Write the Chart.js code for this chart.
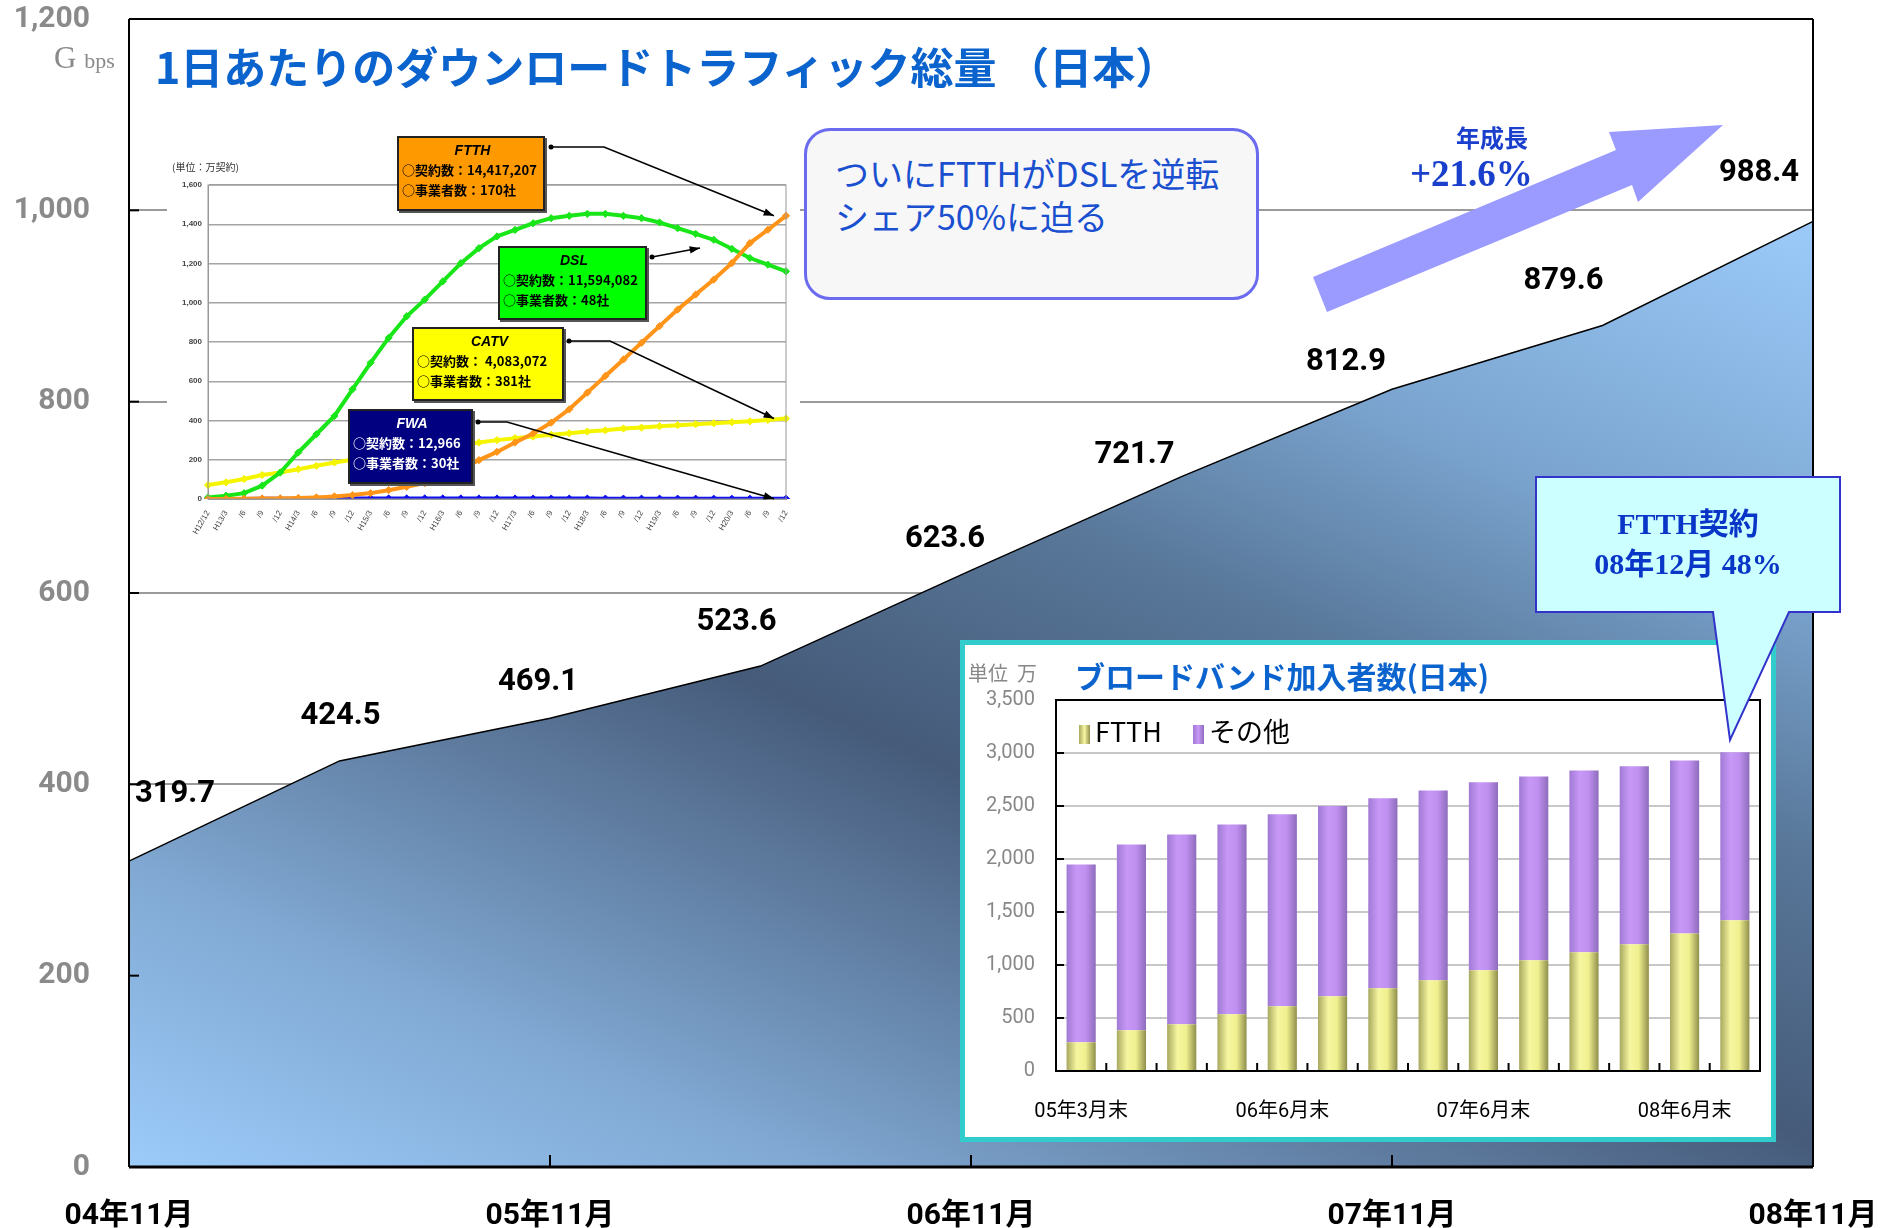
<!DOCTYPE html>
<html lang="ja">
<head>
<meta charset="utf-8">
<script src="https://cdn.jsdelivr.net/npm/chart.js@4.4.1/dist/chart.umd.min.js"></script>
<style>
  html, body { margin: 0; padding: 0; background: #fff; }
  body { width: 1894px; height: 1228px; position: relative; overflow: hidden;
         font-family: "Noto Sans CJK JP", "Noto Sans", sans-serif; }
  .abs { position: absolute; white-space: nowrap; }
  #main { position: absolute; left: 0; top: 0; z-index: 1; }
  #inset { position: absolute; left: 167px; top: 128px; z-index: 2; background: #fff; }
  #bbBox { position: absolute; left: 960px; top: 640px; width: 816px; height: 502px; box-sizing: border-box;
           border: 5px solid #33cccc; background: #fff; z-index: 2; }
  #bbBox canvas { position: absolute; left: 0; top: 0; }
  #overlay { position: absolute; left: 0; top: 0; z-index: 3; pointer-events: none; }
  .txt { z-index: 4; }
  .title { left: 155px; top: 37px; font-size: 43px; font-weight: bold; color: #0b63ce; line-height: 56px; }
  .gbps { left: 54px; top: 38px; color: #8a8a8a; font-family: "Liberation Serif", serif; font-size: 31px; line-height: 40px; }
  .gbps small { font-size: 22px; }
  .bubble { left: 804px; top: 128px; width: 455px; height: 172px; box-sizing: border-box; border: 3px solid #6b6bf0;
            border-radius: 26px; background: #f7f7f7; padding: 20px 0 0 28px; color: #1a4fd0; font-size: 34px; line-height: 43px; }
  .growth1 { left: 1456px; top: 122px; color: #1a3fcc; font-size: 24px; font-weight: bold; line-height: 30px; }
  .growth2 { left: 1410px; top: 152px; color: #1a3fcc; font-size: 37px; font-weight: bold; line-height: 44px;
             font-family: "Liberation Serif", "Noto Sans CJK JP", serif; }
  .ftthNote { left: 1536px; top: 504px; width: 304px; text-align: center; color: #0a36c8; font-weight: bold;
              font-size: 30px; line-height: 40px; font-family: "Liberation Serif", "Noto Sans CJK JP", serif; }
  .box { z-index: 4; box-sizing: border-box; border: 2px solid #222; box-shadow: 2px 2px 0 #555;
         font-size: 13px; font-weight: bold; line-height: 20px; padding: 2px 0 0 3px; color: #000; }
  .box .h { text-align: center; font-style: italic; font-size: 14px; font-family: "Liberation Sans", sans-serif; }
  .unit { left: 172px; top: 159px; font-size: 10px; color: #333; }
  .bbTitle { left: 1075px; top: 656px; font-size: 30px; font-weight: bold; color: #0b63ce; line-height: 38px; }
  .bbUnit { left: 968px; top: 660px; font-size: 20px; color: #888; line-height: 26px; }
  .legend { top: 714px; font-size: 27px; line-height: 34px; color: #000; }
  .sw { display: inline-block; width: 11px; height: 19px; vertical-align: -2px; margin-right: 5px; }
</style>
</head>
<body>
<canvas id="main" width="1894" height="1228"></canvas>
<canvas id="inset" width="633" height="424"></canvas>
<div id="bbBox"><canvas id="bb" width="806" height="492"></canvas></div>

<svg id="overlay" width="1894" height="1228">
  <polygon points="1313,277 1616,150 1609,132 1723,125 1638,202 1632,185 1327,312" fill="#9a9aff"/>
  <path d="M1536,477 H1840 V612 H1789 L1730,740 L1713,612 H1536 Z" fill="#ccffff" stroke="#3333cc" stroke-width="2"/>
</svg>

<div class="abs txt gbps">G <small>bps</small></div>
<div class="abs txt title">1日あたりのダウンロードトラフィック総量 （日本）</div>
<div class="abs txt bubble">ついにFTTHがDSLを逆転<br>シェア50%に迫る</div>
<div class="abs txt growth1">年成長</div>
<div class="abs txt growth2">+21.6%</div>
<div class="abs txt ftthNote">FTTH契約<br>08年12月 48%</div>

<div class="abs txt unit">(単位：万契約)</div>
<div class="abs box" style="left:397px;top:136px;width:148px;height:75px;background:#ff9900;">
  <div class="h">FTTH</div>○契約数：14,417,207<br>○事業者数：170社</div>
<div class="abs box" style="left:498px;top:246px;width:149px;height:74px;background:#00ff00;">
  <div class="h">DSL</div>○契約数：11,594,082<br>○事業者数：48社</div>
<div class="abs box" style="left:412px;top:327px;width:152px;height:74px;background:#ffff00;">
  <div class="h">CATV</div>○契約数： 4,083,072<br>○事業者数：381社</div>
<div class="abs box" style="left:348px;top:409px;width:125px;height:75px;background:#000080;color:#fff;">
  <div class="h">FWA</div>○契約数：12,966<br>○事業者数：30社</div>

<div class="abs txt bbUnit">単位&nbsp;&nbsp;万</div>
<div class="abs txt bbTitle">ブロードバンド加入者数(日本)</div>
<div class="abs txt legend" style="left:1079px;"><span class="sw" style="background:linear-gradient(90deg,#a8a860,#f6f6a0,#8f8f4c)"></span>FTTH</div>
<div class="abs txt legend" style="left:1193px;"><span class="sw" style="background:linear-gradient(90deg,#a07ad4,#c898f6,#8e6cbc)"></span>その他</div>

<script>
// main chart: daily download traffic, Gbps, half-yearly
const periods = ["04年11月", "05年5月", "05年11月", "06年5月", "06年11月", "07年5月", "07年11月", "08年5月", "08年11月"];
const trafficGbps = [319.7, 424.5, 469.1, 523.6, 623.6, 721.7, 812.9, 879.6, 988.4];
const labelNudge = [[46, -67], [1, -45], [-12, -36], [-24, -44], [-26, -31], [-47, -21], [-46, -27], [-39, -44], [-54, -48]];

// broadband subscribers inset (万)
const bbQuarters = ["05年3月末", "05年9月末", "05年12月末", "06年3月末", "06年6月末", "06年9月末", "06年12月末",
                    "07年3月末", "07年6月末", "07年9月末", "07年12月末", "08年3月末", "08年6月末", "08年9月末"];
const bbShown = [0, 4, 8, 12];
const bbFtth  = [271, 384, 441, 535, 611, 705, 781, 856, 951, 1045, 1121, 1196, 1297, 1423];
const bbOther = [1677, 1753, 1791, 1791, 1810, 1794, 1791, 1791, 1772, 1734, 1715, 1678, 1633, 1583];

// contracts by access type (万契約), quarterly H12/12 .. H20/12
const lineQuarters = ["H12/12", "H13/3", "/6", "/9", "/12", "H14/3", "/6", "/9", "/12", "H15/3", "/6", "/9", "/12",
                      "H16/3", "/6", "/9", "/12", "H17/3", "/6", "/9", "/12", "H18/3", "/6", "/9", "/12",
                      "H19/3", "/6", "/9", "/12", "H20/3", "/6", "/9", "/12"];
const ftthSubs = [0, 0, 1, 2, 3, 5, 8, 13, 20, 30, 45, 62, 81, 110, 152, 198, 240, 288, 334, 389, 457, 542, 627, 711,
                  796, 881, 965, 1042, 1118, 1202, 1304, 1372, 1443];
const dslSubs  = [8, 17, 30, 68, 135, 237, 330, 423, 559, 694, 821, 931, 1016, 1109, 1202, 1278, 1338, 1371, 1405, 1431,
                  1443, 1453, 1453, 1443, 1431, 1409, 1380, 1351, 1321, 1275, 1228, 1194, 1160];
const catvSubs = [71, 85, 102, 122, 135, 152, 169, 186, 200, 212, 225, 237, 249, 262, 274, 288, 300, 310, 318, 327,
                  335, 344, 350, 359, 364, 371, 376, 381, 386, 391, 396, 403, 410];
const fwaSubs  = [0.3, 0.5, 0.6, 0.9, 1.2, 1.5, 1.8, 2.3, 2.5, 2.6, 2.7, 2.8, 2.8, 2.8, 2.7, 2.6, 2.5, 2.4, 2.3, 2.2,
                  2.1, 2.0, 1.9, 1.8, 1.7, 1.6, 1.5, 1.5, 1.4, 1.4, 1.3, 1.3, 1.3];

const FONT = 'Roboto, "Noto Sans CJK JP", sans-serif';
const CLEAR = "rgba(0,0,0,0)";

function line(ctx, x1, y1, x2, y2) {
  ctx.beginPath(); ctx.moveTo(x1, y1); ctx.lineTo(x2, y2); ctx.stroke();
}

function areaFill(c) {
  const a = c.chart.chartArea;
  if (!a) return "#7fa6cf";
  const L = 1.345 * (a.bottom - a.top);
  const g = c.chart.ctx.createLinearGradient(a.left, a.bottom, a.left + 0.4 * L, a.bottom - 0.917 * L);
  g.addColorStop(0, "#9ccbfa");
  g.addColorStop(0.18, "#80a8d2");
  g.addColorStop(0.45, "#465b7a");
  g.addColorStop(0.62, "#587799");
  g.addColorStop(0.78, "#7ba5d0");
  g.addColorStop(1, "#9ccbfa");
  return g;
}

const mainDecor = {
  id: "mainDecor",
  afterDatasetsDraw(chart) {
    const { ctx, chartArea: a, scales: { x, y } } = chart;
    ctx.save();
    ctx.strokeStyle = "#000";
    ctx.lineWidth = 2;
    for (const t of y.ticks) {
      const py = y.getPixelForValue(t.value);
      line(ctx, a.left, py, a.left + 10, py);
    }
    for (let i = 2; i < periods.length - 1; i += 2) {
      const px = x.getPixelForValue(i);
      line(ctx, px, a.bottom, px, a.bottom - 12);
    }
    line(ctx, a.left, a.top, a.right, a.top);
    line(ctx, a.right, a.top, a.right, a.bottom);
    line(ctx, a.left, a.top, a.left, a.bottom);
    ctx.lineWidth = 3;
    line(ctx, a.left, a.bottom, a.right, a.bottom);

    ctx.fillStyle = "#000";
    ctx.font = "bold 31px " + FONT;
    ctx.textAlign = "center";
    ctx.textBaseline = "middle";
    chart.getDatasetMeta(0).data.forEach((pt, i) => {
      ctx.fillText(trafficGbps[i].toFixed(1), pt.x + labelNudge[i][0], pt.y + labelNudge[i][1]);
    });
    ctx.restore();
  }
};

new Chart(document.getElementById("main"), {
  type: "line",
  data: {
    labels: periods,
    datasets: [{
      data: trafficGbps,
      fill: "origin",
      backgroundColor: areaFill,
      borderColor: "#000",
      borderWidth: 1.5,
      pointRadius: 0,
      tension: 0
    }]
  },
  options: {
    responsive: false,
    animation: false,
    layout: { padding: { top: 19, right: 81, left: 0, bottom: 0 } },
    plugins: { legend: { display: false }, tooltip: { enabled: false } },
    scales: {
      x: {
        offset: false,
        grid: { drawOnChartArea: false, drawTicks: true, tickLength: 30, tickColor: CLEAR },
        border: { display: false },
        ticks: {
          autoSkip: false, maxRotation: 0, padding: 1, color: "#000",
          font: { size: 30, weight: "bold", family: FONT },
          callback: (v, i) => (i % 2 === 0 ? periods[i] : "")
        },
        afterFit: (s) => { s.height = 61; }
      },
      y: {
        min: 0, max: 1200,
        grid: { color: "#9a9a9a", lineWidth: 2, drawTicks: true, tickLength: 38, tickColor: CLEAR },
        border: { display: false },
        ticks: { stepSize: 200, padding: 1, color: "#8a8a8a", font: { size: 30, weight: "bold", family: FONT } },
        afterFit: (s) => { s.width = 129; }
      }
    }
  },
  plugins: [mainDecor]
});

// ---- top-left inset: contracts by access type ----
const INSET_X = 167, INSET_Y = 128;

function arrowPath(ctx, pts) {
  ctx.beginPath();
  ctx.moveTo(pts[0][0], pts[0][1]);
  for (let i = 1; i < pts.length; i++) ctx.lineTo(pts[i][0], pts[i][1]);
  ctx.stroke();
  const [x1, y1] = pts[pts.length - 2], [x2, y2] = pts[pts.length - 1];
  const ang = Math.atan2(y2 - y1, x2 - x1);
  ctx.beginPath();
  ctx.moveTo(x2, y2);
  ctx.lineTo(x2 - 11 * Math.cos(ang - 0.35), y2 - 11 * Math.sin(ang - 0.35));
  ctx.lineTo(x2 - 11 * Math.cos(ang + 0.35), y2 - 11 * Math.sin(ang + 0.35));
  ctx.closePath();
  ctx.fill();
  ctx.beginPath();
  ctx.arc(pts[0][0], pts[0][1], 2.5, 0, Math.PI * 2);
  ctx.fill();
}

const insetDecor = {
  id: "insetDecor",
  beforeDraw(chart) {
    const { ctx, width, height } = chart;
    ctx.save();
    ctx.fillStyle = "#fff";
    ctx.fillRect(0, 0, width, height);
    ctx.restore();
  },
  afterDraw(chart) {
    const { ctx, chartArea: a } = chart;
    ctx.save();
    ctx.strokeStyle = "#999";
    ctx.lineWidth = 1;
    ctx.strokeRect(a.left, a.top, a.right - a.left, a.bottom - a.top);
    ctx.strokeStyle = "#000";
    ctx.fillStyle = "#000";
    ctx.lineWidth = 1.6;
    const end = (di) => {
      const pts = chart.getDatasetMeta(di).data;
      const p = pts[pts.length - 1];
      return [p.x - 12, p.y];
    };
    const o = (x, y) => [x - INSET_X, y - INSET_Y];
    arrowPath(ctx, [o(551, 147), o(604, 147), end(0)]);
    arrowPath(ctx, [o(652, 257), o(700, 248)]);
    arrowPath(ctx, [o(569, 341), o(610, 341), end(2)]);
    arrowPath(ctx, [o(478, 422), o(507, 422), end(3)]);
    ctx.restore();
  }
};

const seriesStyle = (color) => ({
  borderColor: color, backgroundColor: color, borderWidth: 4,
  pointStyle: "rectRot", pointRadius: 3.6, pointBorderWidth: 1, tension: 0, fill: false
});

new Chart(document.getElementById("inset"), {
  type: "line",
  data: {
    labels: lineQuarters,
    datasets: [
      { label: "FTTH", data: ftthSubs, ...seriesStyle("#ff9419") },
      { label: "DSL", data: dslSubs, ...seriesStyle("#19e619") },
      { label: "CATV", data: catvSubs, ...seriesStyle("#f5f500") },
      { label: "FWA", data: fwaSubs, ...seriesStyle("#1010f0") }
    ]
  },
  options: {
    responsive: false,
    animation: false,
    layout: { padding: { top: 57, right: 14, left: 0, bottom: 0 } },
    plugins: { legend: { display: false }, tooltip: { enabled: false } },
    scales: {
      x: {
        grid: { display: false },
        border: { color: "#999" },
        ticks: { autoSkip: false, minRotation: 60, maxRotation: 60, padding: 2, color: "#444", font: { size: 8 } },
        afterFit: (s) => { s.height = 53; }
      },
      y: {
        min: 0, max: 1600,
        grid: { color: "#a4a4a4", lineWidth: 1.5, drawTicks: false },
        border: { color: "#999" },
        ticks: { stepSize: 200, padding: 6, color: "#444", font: { size: 8, weight: "bold" } },
        afterFit: (s) => { s.width = 41; }
      }
    }
  },
  plugins: [insetDecor]
});

// ---- bottom-right inset: broadband subscribers ----
function barGradient(stops, solid) {
  return (c) => {
    const chart = c.chart;
    const xs = chart.scales.x;
    if (!chart.chartArea || !xs || c.dataIndex === undefined) return solid;
    const w = (xs.width / bbQuarters.length) * 0.58;
    const xc = xs.getPixelForValue(c.dataIndex);
    const g = chart.ctx.createLinearGradient(xc - w / 2, 0, xc + w / 2, 0);
    stops.forEach(([p, col]) => g.addColorStop(p, col));
    return g;
  };
}

const bbDecor = {
  id: "bbDecor",
  afterDraw(chart) {
    const { ctx, chartArea: a, scales: { x, y } } = chart;
    ctx.save();
    ctx.strokeStyle = "#000";
    ctx.lineWidth = 2;
    ctx.strokeRect(a.left, a.top, a.right - a.left, a.bottom - a.top);
    for (const t of y.ticks) {
      const py = y.getPixelForValue(t.value);
      line(ctx, a.left, py, a.left + 8, py);
    }
    for (let i = 0; i < bbQuarters.length - 1; i++) {
      const px = (x.getPixelForValue(i) + x.getPixelForValue(i + 1)) / 2;
      line(ctx, px, a.bottom, px, a.bottom - 8);
    }
    ctx.restore();
  }
};

new Chart(document.getElementById("bb"), {
  type: "bar",
  data: {
    labels: bbQuarters,
    datasets: [
      { label: "FTTH", data: bbFtth,
        backgroundColor: barGradient([[0, "#a8a860"], [0.35, "#f6f6a0"], [0.65, "#f0f090"], [1, "#8f8f4c"]], "#e8e88a") },
      { label: "その他", data: bbOther,
        backgroundColor: barGradient([[0, "#a07ad4"], [0.35, "#c898f6"], [0.65, "#c090f0"], [1, "#8e6cbc"]], "#b98ae8") }
    ]
  },
  options: {
    responsive: false,
    animation: false,
    layout: { padding: { top: 55, right: 11, left: 0, bottom: 0 } },
    datasets: { bar: { barPercentage: 0.58, categoryPercentage: 1 } },
    plugins: { legend: { display: false }, tooltip: { enabled: false } },
    scales: {
      x: {
        stacked: true,
        grid: { drawOnChartArea: false, drawTicks: true, tickLength: 28, tickColor: CLEAR },
        border: { display: false },
        ticks: {
          autoSkip: false, maxRotation: 0, padding: 1, color: "#000",
          font: { size: 20, family: FONT },
          callback: (v, i) => (bbShown.includes(i) ? bbQuarters[i] : "")
        },
        afterFit: (s) => { s.height = 66; }
      },
      y: {
        stacked: true,
        min: 0, max: 3500,
        grid: { color: "#c8c8c8", lineWidth: 2, drawTicks: true, tickLength: 20, tickColor: CLEAR },
        border: { display: false },
        ticks: { stepSize: 500, padding: 1, color: "#888", font: { size: 20, family: FONT } },
        afterFit: (s) => { s.width = 91; }
      }
    }
  },
  plugins: [bbDecor]
});
</script>
</body>
</html>
